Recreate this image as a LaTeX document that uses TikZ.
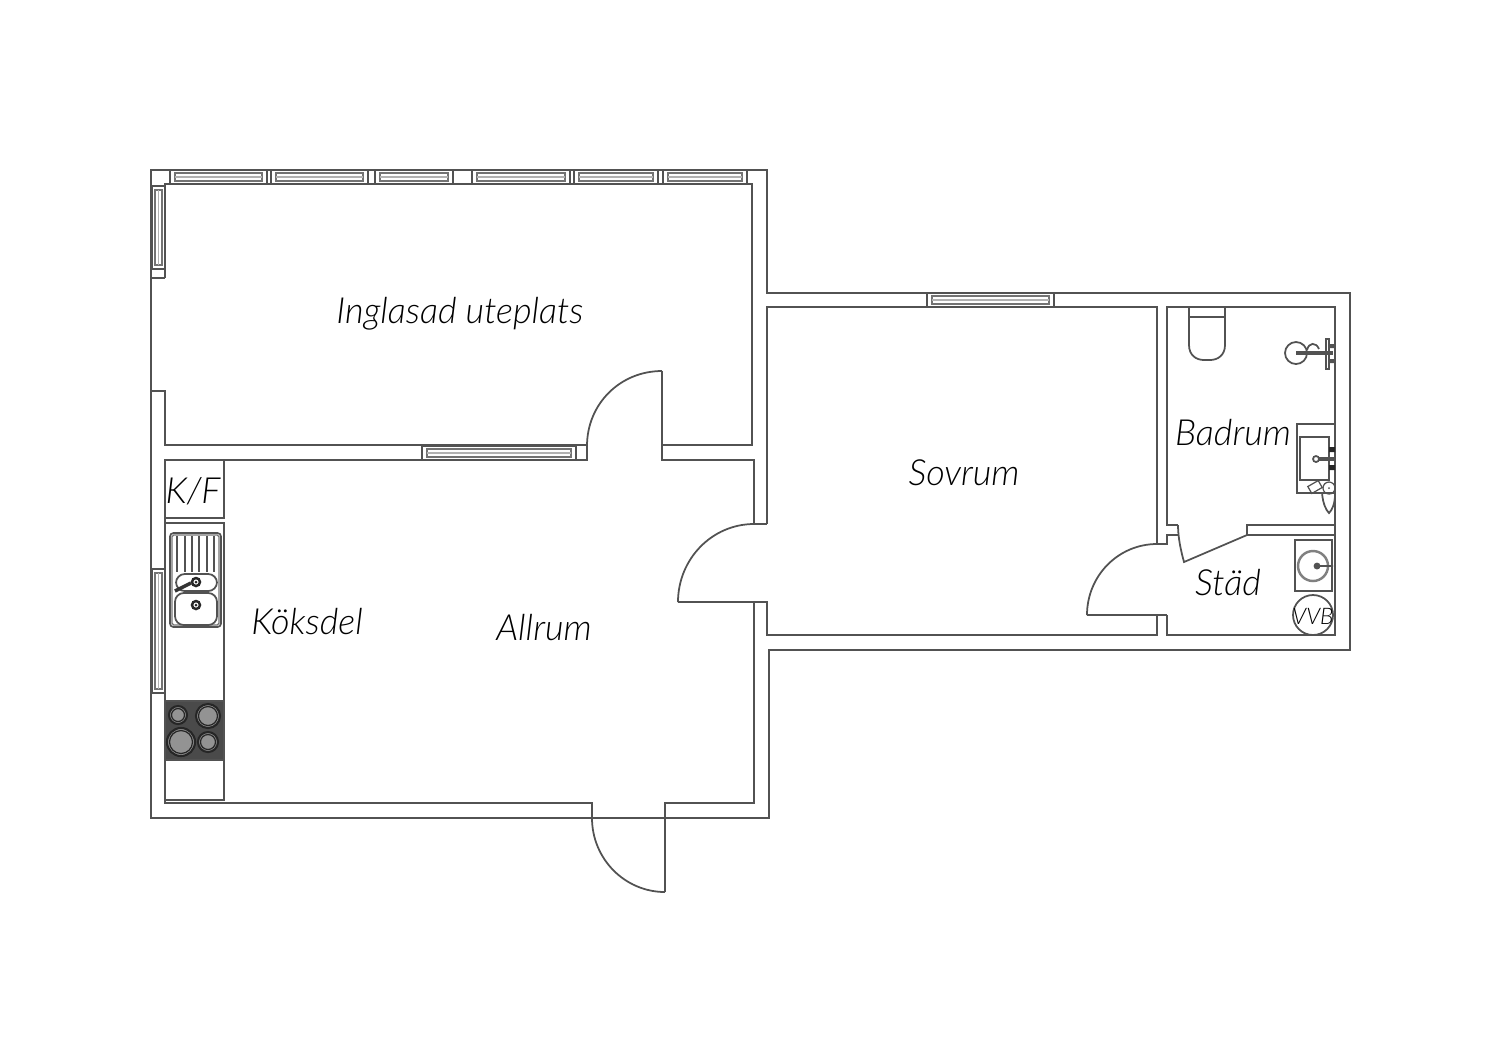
\documentclass[tikz,border=0pt]{standalone}
\usepackage{fontspec}
\setmainfont{Lato Light}
\usetikzlibrary{positioning}
\definecolor{wallgray}{gray}{0.32}
\definecolor{hobgray}{gray}{0.29}

\begin{document}
\begin{tikzpicture}[x=0.1mm,y=-0.1mm,line width=.5pt,draw=wallgray]
  \tikzstyle{room}=[font=\itshape\fontsize{10.25}{12}\selectfont,text=black,inner sep=0pt]
  \tikzstyle{thin part}=[line width=.35pt,draw=gray!90!black]
  \tikzstyle{glass}=[line width=.3pt,draw=gray!60]
  \tikzstyle{burner}=[draw=black!85,line width=.6pt,fill=gray!85]

  \useasboundingbox (0,0) rectangle (1500,1060);

  % outer walls
  \draw (151,170) -- (767,170) -- (767,293) -- (1350,293) -- (1350,650) -- (769,650)
        -- (769,818) -- (151,818) -- cycle;

  % uteplats
  \draw (165,278) -- (165,184) -- (752,184) -- (752,445) -- (662,445);
  \draw (151,278) -- (165,278);
  \draw (151,391) -- (165,391) -- (165,445) -- (587,445);
  \draw (587,445) -- (587,460) -- (422,460);
  \draw (662,371) -- (662,460) -- (754,460) -- (754,524) -- (767,524);
  \draw (587,446) .. controls (587,404) and (620,371) .. (662,371);

  % allrum and kitchen walls
  \draw (422,460) -- (165,460) -- (165,803) -- (592,803) -- (592,818);
  \draw (665,892) -- (665,803) -- (754,803) -- (754,602);
  \draw (592,818) .. controls (592,859) and (625,892) .. (665,892);
  \draw (678,602) .. controls (678,559) and (712,524) .. (754,524);
  \draw (678,602) -- (767,602) -- (767,635) -- (1157,635) -- (1157,615);

  % sovrum
  \draw (767,524) -- (767,307) -- (1157,307) -- (1157,544);

  % badrum and stad
  \draw (1157,544) -- (1167,544) -- (1167,535) -- (1178,535);
  \draw (1178,525) -- (1167,525) -- (1167,307) -- (1335,307) -- (1335,635)
        -- (1167,635) -- (1167,615);
  \draw (1087,615) -- (1167,615);
  \draw (1087,615) .. controls (1087,576) and (1118,544) .. (1157,544);
  \draw (1178,525) .. controls (1178,538) and (1181,551) .. (1184,562) -- (1247,535) -- (1247,525) -- (1335,525);
  \draw (1247,535) -- (1335,535);

  % windows
  \foreach \xa/\xb/\ya/\yb in {170/267/170/184,271/368/170/184,375/453/170/184,472/570/170/184,
                               574/658/170/184,663/747/170/184,927/1054/293/307,422/576/446/460}{
    \draw (\xa,\ya) rectangle (\xb,\yb);
    \draw[thin part] (\xa+5,\ya+3) rectangle (\xb-5,\yb-3);
    \draw[glass] (\xa+5,\ya+7) -- (\xb-5,\ya+7);
  }
  \foreach \ya/\yb in {186/269,569/693}{
    \draw (152,\ya) rectangle (165,\yb);
    \draw[thin part] (155,\ya+4) rectangle (162,\yb-4);
    \draw[glass] (158.5,\ya+4) -- (158.5,\yb-4);
  }

  % kitchen
  \draw (165,518) -- (224,518) -- (224,460);
  \draw (165,523) -- (224,523) -- (224,800) -- (165,800);
  \draw[rounded corners=1pt] (170,533) rectangle (221,627);
  \draw[rounded corners=.5pt,thin part] (172,535) rectangle (219,625);
  \foreach \x in {177,185,192,199,207,214}
    \draw[line width=.7pt] (\x,536) -- (\x,572);
  \draw[rounded corners=2.5pt] (176,574) rectangle (217,591);
  \draw[rounded corners=2.5pt] (175,593) rectangle (217,625);
  \foreach \y in {582,605}{
    \draw[line width=.7pt,draw=black!85] (196,\y) circle[radius=4];
    \fill[black!85] (196,\y) circle[radius=1.5];
  }
  \draw[line width=1pt,draw=black!80] (175,591) -- (191,583);

  % hob
  \fill[hobgray] (165,701) rectangle (224,760);
  \draw (165,701) rectangle (224,760);
  \foreach \x/\y/\r in {178/715/9,208/716/12,181/742/14,208/742/10}{
    \draw[burner] (\x,\y) circle[radius=\r];
    \draw[thin part,draw=black!85] (\x,\y) circle[radius=\r-2.5];
  }

  % toilet
  \draw (1189,307) -- (1189,345) .. controls (1189,355) and (1196,360) .. (1204,360)
        -- (1210,360) .. controls (1218,360) and (1225,355) .. (1225,345) -- (1225,307);
  \draw (1189,317) -- (1225,317);

  % washbasin at the wall
  \draw (1296,353) circle[radius=11];
  \draw (1307,350) .. controls (1309,342) and (1316,342) .. (1319,349);
  \draw[line width=1pt] (1296,353) -- (1333,353);
  \draw (1326,339) rectangle (1329,369);
  \fill[wallgray] (1329,344) rectangle (1334,348) (1329,359) rectangle (1334,363);

  % basin in badrum
  \draw (1335,424) -- (1297,424) -- (1297,493) -- (1335,493);
  \draw (1300,437) rectangle (1329,480);
  \draw[line width=1pt] (1316,459) -- (1335,459);
  \draw[fill=white] (1316,459) circle[radius=3];
  \fill[black!85] (1329,447) rectangle (1335,452) (1329,465) rectangle (1335,470);
  \draw[rotate around={30:(1315,487)},line width=.35pt] (1309,483) rectangle (1321,491);
  \draw (1322,493) .. controls (1323,504) and (1326,510) .. (1329,513)
        .. controls (1332,510) and (1335,504) .. (1335,494);
  \draw[line width=.35pt] (1329,488) circle[radius=6];
  \fill[wallgray] (1329,488) circle[radius=1];

  % stad
  \draw (1332,540) -- (1295,540) -- (1295,591) -- (1332,591) -- cycle;
  \draw[line width=.7pt,draw=gray] (1313,566) circle[radius=15];
  \draw[fill=wallgray] (1317,566) circle[radius=2.5] -- (1333,566);
  \draw (1313,615) circle[radius=20];

  % labels
  \node[room] (uteplats) at (460,314) {Inglasad uteplats};
  \node[room] (sovrum) at (964,473) {Sovrum};
  \node[room] (badrum) at (1233,432) {Badrum};
  \node[room] (stad) at (1228,583) {Städ};
  \node[room] (koksdel) at (307,622) {Köksdel};
  \node[room] (allrum) at (544,627) {Allrum};
  \node[room] (kf) at (193,491) {K/F};
  \node[room,font=\itshape\fontsize{6.5}{7}\selectfont] (vvb) at (1313,616) {VVB};
\end{tikzpicture}
\end{document}
